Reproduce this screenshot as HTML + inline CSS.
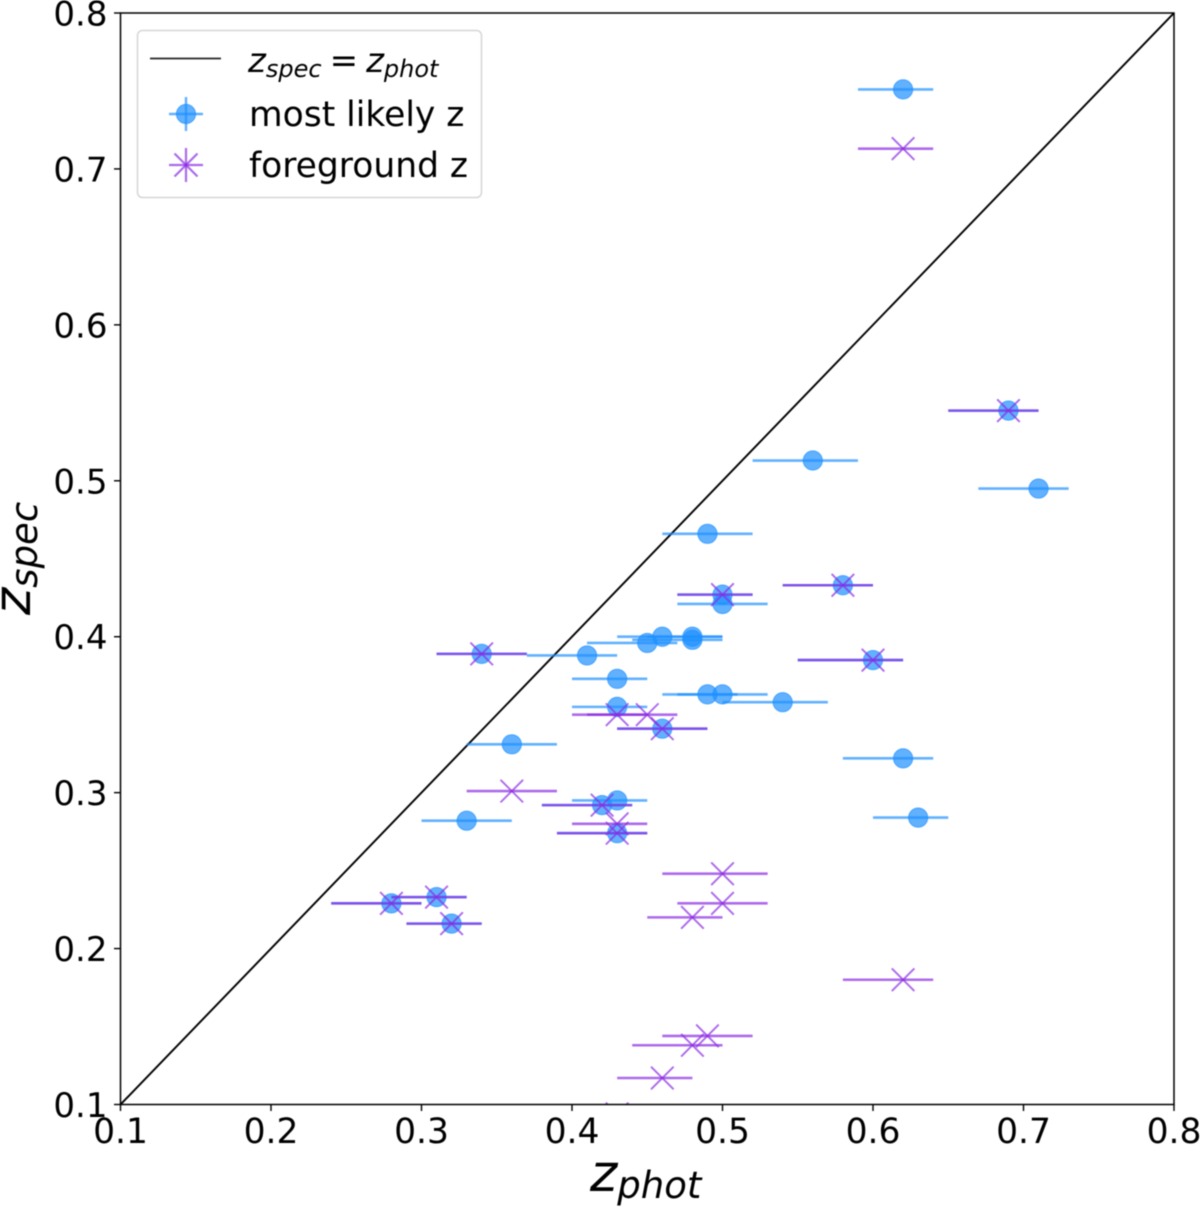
<!DOCTYPE html>
<html lang="en">
<head>
<meta charset="utf-8">
<title>z_spec vs z_phot</title>
<style>
html,body{margin:0;padding:0;background:#fff;width:1200px;height:1207px;overflow:hidden}
svg{display:block;filter:blur(0.4px)}
text{font-family:"DejaVu Sans","Liberation Sans",sans-serif;fill:#000}
</style>
</head>
<body>
<svg id="chart" xmlns="http://www.w3.org/2000/svg" width="1200" height="1207" viewBox="0 0 1200 1207">
  <rect x="0" y="0" width="1200" height="1207" fill="#fff"/>
  <defs><clipPath id="plot-clip"><rect x="120.5" y="13" width="1053.5" height="1091.5"/></clipPath></defs>
  <g id="plot" clip-path="url(#plot-clip)"></g>
  <g id="axes"></g>
  <text x="590" y="1191" font-size="52" font-style="italic">z<tspan font-size="37" dy="7">phot</tspan></text>
  <text transform="translate(30,615) rotate(-90)" font-size="52" font-style="italic">z<tspan font-size="37" dy="7">spec</tspan></text>
  <g>
    <rect x="137.5" y="30.5" width="344" height="167" rx="5" ry="5" fill="#fff" fill-opacity="0.8" stroke="#d6d6d6" stroke-width="1.5"/>
    <line x1="150" y1="58.5" x2="221" y2="58.5" stroke="#000" stroke-width="1.7" stroke-opacity="0.85"/>
    <text x="248" y="72" font-size="34" font-style="italic">z<tspan font-size="24" dy="5">spec</tspan><tspan font-style="normal" dy="-5" dx="8">=</tspan><tspan dx="8">z</tspan><tspan font-size="24" dy="5">phot</tspan></text>
    <g stroke="#1e90ff" stroke-opacity="0.7" stroke-width="2.4">
      <line x1="169" y1="114" x2="203" y2="114"/>
      <line x1="186" y1="97" x2="186" y2="131"/>
      <circle cx="186" cy="114" r="9.6" fill="#1e90ff" fill-opacity="0.7" stroke-width="1"/>
    </g>
    <text x="249" y="126" font-size="34.5">most likely z</text>
    <g stroke="#8a2be2" stroke-opacity="0.7" stroke-width="2.2">
      <line x1="169" y1="165" x2="203" y2="165"/>
      <line x1="186" y1="148" x2="186" y2="182"/>
      <line x1="174.5" y1="153.5" x2="197.5" y2="176.5"/>
      <line x1="174.5" y1="176.5" x2="197.5" y2="153.5"/>
    </g>
    <text x="249" y="177" font-size="34.5">foreground z</text>
  </g>
</svg>
<script>
const xTickLabels = ["0.1","0.2","0.3","0.4","0.5","0.6","0.7","0.8"];
const yTickLabels = ["0.1","0.2","0.3","0.4","0.5","0.6","0.7","0.8"];
const identityLine = [0.1, 0.8];

const blueX    = [0.62,0.69,0.56,0.71,0.49,0.50,0.50,0.58,0.46,0.48,0.48,0.45,0.41,0.34,0.43,0.49,0.50,0.54,0.60,0.43,0.46,0.36,0.62,0.43,0.42,0.63,0.33,0.43,0.31,0.28,0.32];
const blueY    = [0.751,0.545,0.513,0.495,0.466,0.427,0.421,0.433,0.400,0.400,0.398,0.396,0.388,0.389,0.373,0.363,0.363,0.358,0.385,0.355,0.341,0.331,0.322,0.295,0.292,0.284,0.282,0.274,0.233,0.229,0.216];
const blueXLow = [0.59,0.65,0.52,0.67,0.46,0.47,0.47,0.54,0.43,0.45,0.44,0.41,0.37,0.31,0.40,0.46,0.47,0.50,0.55,0.40,0.43,0.33,0.58,0.40,0.38,0.60,0.30,0.39,0.28,0.24,0.29];
const blueXHigh= [0.64,0.71,0.59,0.73,0.52,0.52,0.53,0.60,0.50,0.50,0.50,0.47,0.43,0.37,0.45,0.51,0.53,0.57,0.62,0.45,0.49,0.39,0.64,0.45,0.44,0.65,0.36,0.45,0.33,0.30,0.34];

const purpleX    = [0.62,0.69,0.50,0.58,0.34,0.60,0.43,0.45,0.46,0.36,0.42,0.43,0.43,0.50,0.50,0.48,0.62,0.49,0.48,0.46,0.43,0.31,0.28,0.32];
const purpleY    = [0.713,0.545,0.427,0.433,0.389,0.385,0.350,0.350,0.341,0.301,0.292,0.280,0.274,0.248,0.229,0.220,0.180,0.144,0.138,0.117,0.094,0.233,0.229,0.216];
const purpleXLow = [0.59,0.65,0.47,0.54,0.31,0.55,0.40,0.41,0.43,0.33,0.38,0.40,0.39,0.46,0.47,0.45,0.58,0.46,0.44,0.43,0.41,0.28,0.24,0.29];
const purpleXHigh= [0.64,0.71,0.52,0.60,0.37,0.62,0.45,0.47,0.49,0.39,0.44,0.45,0.45,0.53,0.53,0.50,0.64,0.52,0.50,0.48,0.45,0.33,0.30,0.34];

const SVGNS = "http://www.w3.org/2000/svg";
const sx = v => 120.5 + (v - 0.1) / 0.7 * 1053.5;
const sy = v => 1104.5 - (v - 0.1) / 0.7 * 1091.5;
const plot = document.getElementById("plot");
const axes = document.getElementById("axes");

function make(parent, tag, props) {
  const el = document.createElementNS(SVGNS, tag);
  for (const k in props) el.setAttribute(k, props[k]);
  parent.appendChild(el);
  return el;
}

// identity line
const idLine = make(plot, "line", {x1:sx(identityLine[0]), y1:sy(identityLine[0]), x2:sx(identityLine[1]), y2:sy(identityLine[1]), stroke:"#000", "stroke-width":1.9});



// most likely z series
blueX.forEach((x, i) => {
  const g = make(plot, "g", {});
  
  
  make(g, "line", {x1:sx(blueXLow[i]), x2:sx(blueXHigh[i]), y1:sy(blueY[i]), y2:sy(blueY[i]), stroke:"#1e90ff", "stroke-opacity":0.7, "stroke-width":2.6});
  make(g, "circle", {cx:sx(x), cy:sy(blueY[i]), r:9.6, fill:"#1e90ff", "fill-opacity":0.7, stroke:"#1e90ff", "stroke-opacity":0.7, "stroke-width":1});
});

// foreground z series
purpleX.forEach((x, i) => {
  const g = make(plot, "g", {});
  
  
  const cx = sx(x), cy = sy(purpleY[i]), m = 11.3;
  make(g, "line", {x1:sx(purpleXLow[i]), x2:sx(purpleXHigh[i]), y1:cy, y2:cy, stroke:"#8a2be2", "stroke-opacity":0.7, "stroke-width":2.6});
  make(g, "line", {x1:cx-m, y1:cy-m, x2:cx+m, y2:cy+m, stroke:"#8a2be2", "stroke-opacity":0.7, "stroke-width":1.9});
  make(g, "line", {x1:cx-m, y1:cy+m, x2:cx+m, y2:cy-m, stroke:"#8a2be2", "stroke-opacity":0.7, "stroke-width":1.9});
});

// ticks and tick labels
xTickLabels.forEach(label => {
  const v = parseFloat(label), x = sx(v);
  const t = make(axes, "line", {x1:x, x2:x, y1:1104.5, y2:1111, stroke:"#000", "stroke-width":1.4});
  
  
  const tx = make(axes, "text", {x:x, y:1143, "font-size":34.5, "text-anchor":"middle"});
  
  
  tx.textContent = label;
});
yTickLabels.forEach(label => {
  const v = parseFloat(label), y = sy(v);
  const t = make(axes, "line", {x1:114, x2:120.5, y1:y, y2:y, stroke:"#000", "stroke-width":1.4});
  
  
  const tx = make(axes, "text", {x:107.5, y:y+12.5, "font-size":34, "text-anchor":"end"});
  
  
  tx.textContent = label;
});

// spines
const frame = make(axes, "rect", {x:120.5, y:13, width:1053.5, height:1091.5, fill:"none", stroke:"#000", "stroke-width":1.5});


</script>
</body>
</html>
